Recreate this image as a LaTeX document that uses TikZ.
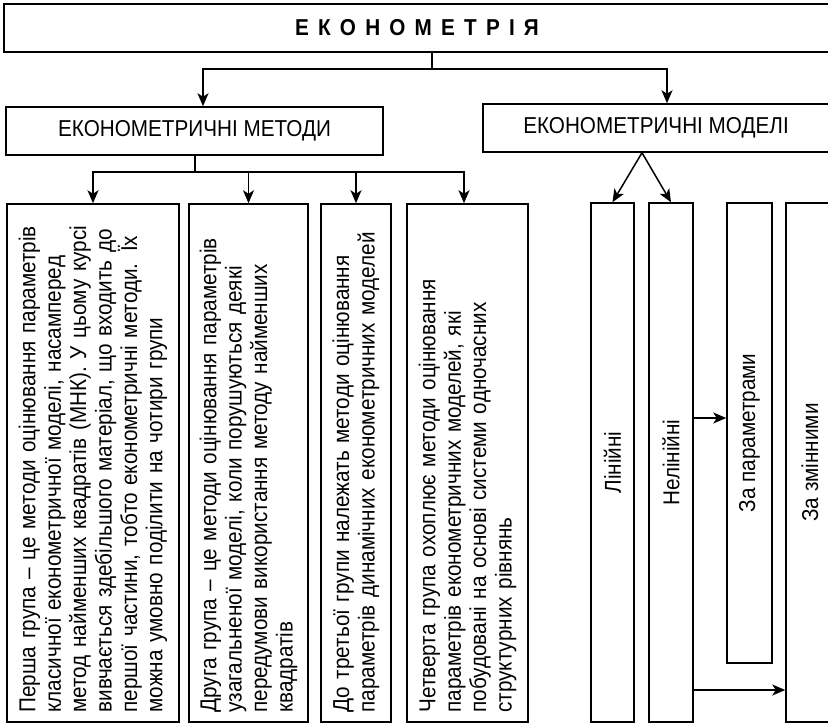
\documentclass[tikz,border=0pt]{standalone}
\usepackage{fontspec}
\setmainfont{Liberation Sans}[FakeStretch=0.9]
\usetikzlibrary{arrows.meta}

\begin{document}
\begin{tikzpicture}[x=1pt,y=-1pt,
	box/.style={draw, line width=1.5pt, inner sep=0pt, font=\fontsize{23}{25.4}\selectfont},
	head/.style={box, minimum height=48pt},
	col/.style={box, rotate=90, align=left, inner xsep=9.5pt, text width=499pt},
	bar/.style={box, rotate=90, align=center},
	link/.style={line width=1.5pt},
	arr/.style={link, -{Stealth[length=13pt,width=11pt,inset=3.5pt]}}]
	\useasboundingbox (0,0) rectangle (828,723);
	\clip (0,0) rectangle (828,723);

	\node[head, minimum width=826pt, font=\fontsize{23}{25}\selectfont\bfseries\addfontfeature{LetterSpace=40}] (econ) at (417,28) {ЕКОНОМЕТРІЯ};
	\node[head, minimum width=377pt] (methods) at (194.5,131) {ЕКОНОМЕТРИЧНІ МЕТОДИ};
	\node[head, minimum width=346pt] (models) at (656,128) {ЕКОНОМЕТРИЧНІ МОДЕЛІ};

	\node[col, minimum height=172pt] (g1) at (93,463) {Перша група – це методи оцінювання параметрів\\
		класичної економетричної моделі, насамперед\\
		метод найменших квадратів (МНК). У цьому курсі\\
		вивчається здебільшого матеріал, що входить до\\
		першої частини, тобто економетричні методи. Їх\\
		можна умовно поділити на чотири групи};
	\node[col, minimum height=119pt] (g2) at (248.5,463) {Друга група – це методи оцінювання параметрів\\
		узагальненої моделі, коли порушуються деякі\\
		передумови використання методу найменших\\
		квадратів};
	\node[col, minimum height=70pt] (g3) at (356,463) {До третьої групи належать методи оцінювання\\
		параметрів динамічних економетричних моделей};
	\node[col, minimum height=121pt] (g4) at (467.5,463) {Четверта група охоплює методи оцінювання\\
		параметрів економетричних моделей, які\\
		побудовані на основі системи одночасних\\
		структурних рівнянь};

	\node[bar, minimum width=519pt, minimum height=43pt] (lin) at (612.5,462.5) {Лінійні};
	\node[bar, minimum width=519pt, minimum height=44pt] (nonlin) at (671,462.5) {Нелінійні};
	\node[bar, minimum width=460pt, minimum height=45pt] (bypar) at (749.5,433) {За параметрами};
	\node[bar, minimum width=519pt, minimum height=48pt] (byvar) at (810,462.5) {За змінними};

	\coordinate (topsplit) at (432,69);
	\coordinate (methsplit) at (195,172);
	\coordinate (np) at (0,418);
	\coordinate (nv) at (0,690);

	\draw[link] (econ.south -| topsplit) -- (topsplit);
	\draw[arr] (topsplit) -| ([xshift=8.5pt]methods.north);
	\draw[arr] (topsplit) -| ([xshift=11pt]models.north);
	\draw[link] (methods.south -| methsplit) -- (methsplit);
	\draw[arr] (methsplit) -| (g1.east);
	\draw[arr] (methsplit) -| ([xshift=-3.5pt]g4.east);
	\draw[arr] (g2.east |- methsplit) -- (g2.east);
	\draw[arr] (g3.east |- methsplit) -- (g3.east);
	\draw[arr] ([xshift=-14pt]models.south) -- (lin.east);
	\draw[arr] ([xshift=-14pt]models.south) -- (nonlin.east);
	\draw[arr] (nonlin.south |- np) -- (bypar.north |- np);
	\draw[arr] (nonlin.south |- nv) -- (byvar.north |- nv);
\end{tikzpicture}
\end{document}
